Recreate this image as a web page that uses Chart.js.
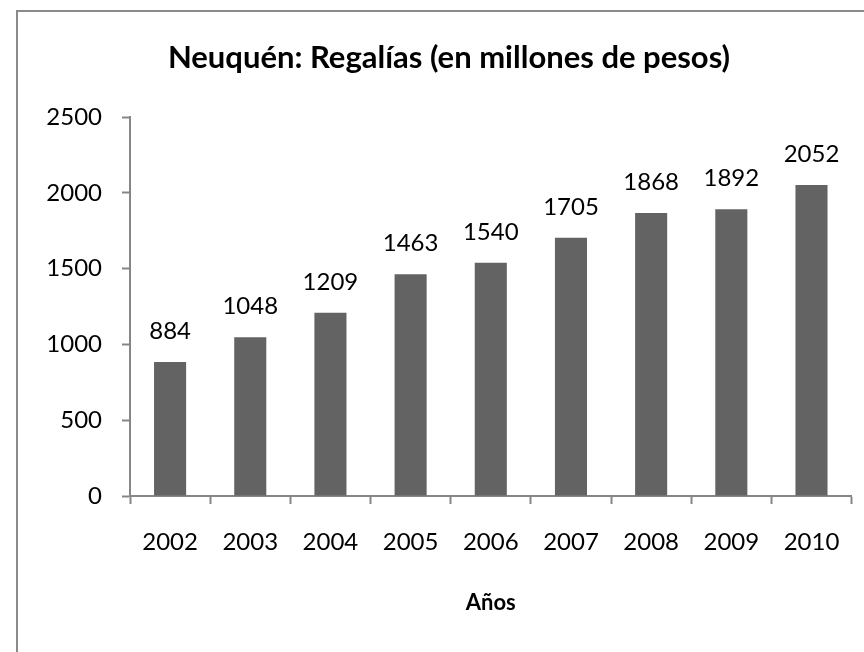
<!DOCTYPE html>
<html>
<head>
<meta charset="utf-8">
<script src="https://cdn.jsdelivr.net/npm/chart.js@4"></script>
<style>
  html, body { margin: 0; padding: 0; background: #ffffff; }
  #wrap { width: 864px; height: 652px; position: relative; }
</style>
</head>
<body>
<div id="wrap"><canvas id="c" width="864" height="652"></canvas></div>
<script>
const years = ['2002', '2003', '2004', '2005', '2006', '2007', '2008', '2009', '2010'];
const royalties = [884, 1048, 1209, 1463, 1540, 1705, 1868, 1892, 2052];
const yTicks = [0, 500, 1000, 1500, 2000, 2500];
const chartTitle = 'Neuquén: Regalías (en millones de pesos)';
const xTitle = 'Años';

const FONT = 'Lato';
const AXIS_COLOR = '#868686';
const BAR_COLOR = '#636363';

const framePlugin = {
  id: 'frame',
  beforeDraw(chart) {
    const ctx = chart.ctx;
    ctx.save();
    ctx.fillStyle = '#ffffff';
    ctx.fillRect(0, 0, chart.width, chart.height);
    ctx.strokeStyle = '#8a8a8a';
    ctx.lineWidth = 2;
    ctx.beginPath();
    ctx.moveTo(17, chart.height + 5);
    ctx.lineTo(17, 11);
    ctx.lineTo(chart.width + 5, 11);
    ctx.stroke();
    ctx.restore();
  }
};

const valueLabels = {
  id: 'valueLabels',
  afterDatasetsDraw(chart) {
    const ctx = chart.ctx;
    const meta = chart.getDatasetMeta(0);
    const data = chart.data.datasets[0].data;
    ctx.save();
    ctx.font = '24px ' + FONT;
    ctx.fillStyle = '#000000';
    ctx.textAlign = 'center';
    ctx.textBaseline = 'alphabetic';
    meta.data.forEach((bar, i) => {
      ctx.fillText(String(data[i]), bar.x, bar.y - 23);
    });
    ctx.restore();
  }
};

new Chart(document.getElementById('c'), {
  type: 'bar',
  data: {
    labels: years,
    datasets: [{
      data: royalties,
      backgroundColor: BAR_COLOR,
      borderWidth: 0,
      barPercentage: 0.4,
      categoryPercentage: 1.0
    }]
  },
  options: {
    responsive: false,
    animation: false,
    layout: { padding: { left: 46, right: 12, top: 0, bottom: 0 } },
    plugins: {
      legend: { display: false },
      tooltip: { enabled: false },
      title: {
        display: true,
        text: chartTitle,
        color: '#000000',
        font: { family: FONT, size: 31, weight: 'bold', lineHeight: 1.2 },
        padding: { top: 39, bottom: 41 }
      }
    },
    scales: {
      x: {
        offset: true,
        grid: {
          display: true,
          offset: true,
          drawOnChartArea: false,
          drawTicks: true,
          tickLength: 8,
          tickColor: AXIS_COLOR,
          tickWidth: 2
        },
        border: { display: true, color: AXIS_COLOR, width: 2 },
        ticks: {
          color: '#000000',
          font: { family: FONT, size: 24, lineHeight: 1.2 },
          padding: 24,
          maxRotation: 0
        },
        title: {
          display: true,
          text: xTitle,
          color: '#000000',
          font: { family: FONT, size: 22, weight: 'bold', lineHeight: 1.2 },
          padding: { top: 0, bottom: 36 }
        },
        afterFit(scale) { scale.height = 156; }
      },
      y: {
        min: 0,
        max: 2500,
        afterBuildTicks(scale) { scale.ticks = yTicks.map(v => ({ value: v })); },
        grid: {
          display: true,
          drawOnChartArea: false,
          drawTicks: true,
          tickLength: 8,
          tickColor: AXIS_COLOR,
          tickWidth: 2
        },
        border: { display: true, color: AXIS_COLOR, width: 2 },
        ticks: {
          color: '#000000',
          font: { family: FONT, size: 24, lineHeight: 1.2 },
          padding: 20,
          callback: (v) => String(v)
        },
        afterFit(scale) { scale.width = 84; }
      }
    }
  },
  plugins: [framePlugin, valueLabels]
});
</script>
</body>
</html>
